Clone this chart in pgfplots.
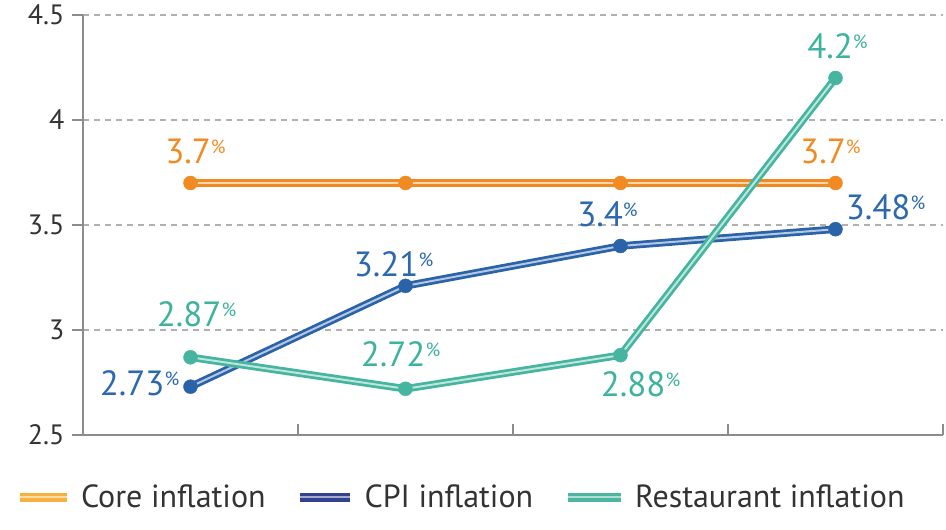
\documentclass[border=0pt]{standalone}
\usepackage{pgfplots}
\pgfplotsset{compat=1.18}
\usepackage{pgfplotstable}
\usepackage{fontspec}
\setmainfont{PT Sans}
\definecolor{coreC}{HTML}{F28A22}
\definecolor{cpiC}{HTML}{2A63A8}
\definecolor{restC}{HTML}{45B5A0}
\definecolor{coreT}{HTML}{F28A22}
\definecolor{cpiT}{HTML}{2B68AE}
\definecolor{restT}{HTML}{3DB39E}
\definecolor{coreL}{HTML}{F6B23E}
\definecolor{cpiL}{HTML}{33428F}
\definecolor{restL}{HTML}{4DB6A2}
\definecolor{gridC}{HTML}{B0B0B0}
\definecolor{axisC}{HTML}{8C8C8C}
\definecolor{txtC}{HTML}{333333}
\newcommand\pc{\raisebox{10pt}{\fontsize{19}{19}\selectfont\%}}
\pgfplotstableread{
x y
0.5 3.7
1.5 3.7
2.5 3.7
3.5 3.7
}\coretab
\pgfplotstableread{
x y
0.5 2.73
1.5 3.21
2.5 3.40
3.5 3.48
}\cpitab
\pgfplotstableread{
x y
0.5 2.87
1.5 2.72
2.5 2.88
3.5 4.20
}\resttab
\begin{document}
\begin{tikzpicture}
\useasboundingbox (0,0) rectangle (946pt,530pt);
\begin{axis}[
  at={(83pt,95pt)}, anchor=south west,
  scale only axis, width=860pt, height=420pt,
  xmin=0, xmax=4, ymin=2.5, ymax=4.5,
  axis x line=bottom, axis y line=left,
  axis line style={draw=axisC, line width=1.6pt, -},
  xtick={0,1,2,3,4}, xticklabels={},
  ytick={2.5,3,3.5,4,4.5}, yticklabels={2.5,3,3.5,4,4.5},
  tick align=outside, major tick length=11pt,
  xtick style={draw=axisC, line width=1.4pt, yshift=11pt},
  ytick style={draw=axisC, line width=1.4pt},
  yticklabel style={font=\fontsize{28}{28}\selectfont, text=txtC, xshift=-4pt},
  ymajorgrids, grid style={gridC, line width=1.2pt, dash pattern=on 6pt off 5pt},
  clip=false,
  legend style={at={(-0.079,-0.148)}, anchor=west, draw=none, fill=none,
    legend columns=3, inner xsep=0pt, inner ysep=0pt,
    font=\fontsize{32}{32}\selectfont, text=txtC,
    /tikz/every odd column/.style={column sep=8pt},
    /tikz/every even column/.style={column sep=28pt}},
  legend cell align=left,
]
\addlegendimage{legend image code/.code={\draw[draw=coreL, line width=3.2pt, double=coreL!45!white, double distance=2.4pt] (0pt,0pt)--(47pt,0pt);}}
\addlegendentry{Core inflation}
\addlegendimage{legend image code/.code={\draw[draw=cpiL, line width=3.2pt, double=cpiL!45!white, double distance=2.4pt] (0pt,0pt)--(50pt,0pt);}}
\addlegendentry{CPI inflation}
\addlegendimage{legend image code/.code={\draw[draw=restL, line width=3.2pt, double=restL!45!white, double distance=2.4pt] (0pt,0pt)--(53pt,0pt);}}
\addlegendentry{Restaurant inflation}

% Core
\addplot[forget plot, coreC, line width=7.5pt] table {\coretab};
\addplot[forget plot, coreC!35!white, line width=2pt] table {\coretab};
\addplot[forget plot, only marks, mark=*, mark size=7pt, mark options={fill=coreC, draw=coreC}] table {\coretab};
% CPI
\addplot[forget plot, cpiC, line width=7.5pt] table {\cpitab};
\addplot[forget plot, cpiC!35!white, line width=2pt] table {\cpitab};
\addplot[forget plot, only marks, mark=*, mark size=7pt, mark options={fill=cpiC, draw=cpiC}] table {\cpitab};
% Restaurant
\addplot[forget plot, restC, line width=7.5pt] table {\resttab};
\addplot[forget plot, restC!35!white, line width=2pt] table {\resttab};
\addplot[forget plot, only marks, mark=*, mark size=7pt, mark options={fill=restC, draw=restC}] table {\resttab};

\tikzset{lab/.style={font=\fontsize{35}{35}\selectfont, inner sep=0pt, anchor=center}}
\node[lab, text=coreT, xshift=5pt, yshift=32pt] at (axis cs:0.5,3.7) {3.7\pc};
\node[lab, text=coreT, xshift=-5pt, yshift=32pt] at (axis cs:3.5,3.7) {3.7\pc};
\node[lab, text=cpiT, xshift=-51pt, yshift=3pt] at (axis cs:0.5,2.73) {2.73\pc};
\node[lab, text=cpiT, xshift=-12pt, yshift=22pt] at (axis cs:1.5,3.21) {3.21\pc};
\node[lab, text=cpiT, xshift=-13pt, yshift=32pt] at (axis cs:2.5,3.40) {3.4\pc};
\node[lab, text=cpiT, xshift=50pt, yshift=22pt] at (axis cs:3.5,3.48) {3.48\pc};
\node[lab, text=restT, xshift=6pt, yshift=43pt] at (axis cs:0.5,2.87) {2.87\pc};
\node[lab, text=restT, xshift=-5pt, yshift=35pt] at (axis cs:1.5,2.72) {2.72\pc};
\node[lab, text=restT, xshift=20pt, yshift=-29pt] at (axis cs:2.5,2.88) {2.88\pc};
\node[lab, text=restT, xshift=2pt, yshift=32pt] at (axis cs:3.5,4.20) {4.2\pc};
\end{axis}
\end{tikzpicture}
\end{document}
